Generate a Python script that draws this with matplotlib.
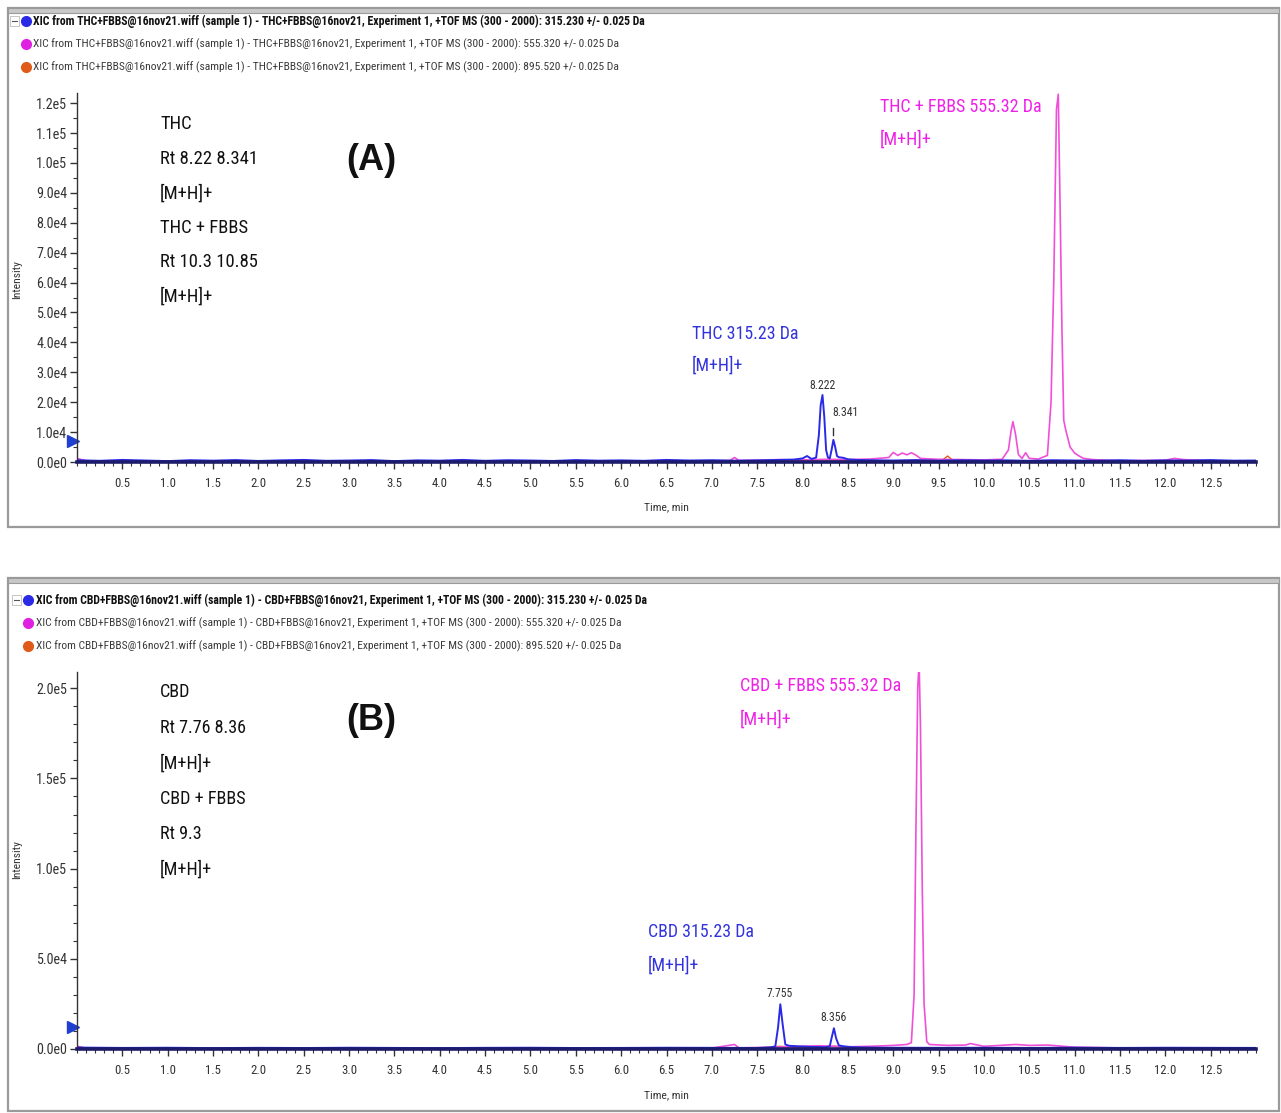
import matplotlib
matplotlib.use("Agg")
import matplotlib.pyplot as plt
from matplotlib import font_manager
from matplotlib.font_manager import FontProperties
from matplotlib.lines import Line2D
from matplotlib.patches import Rectangle
from matplotlib.ticker import MultipleLocator

# ---------------- data ----------------
x_ticks = [0.5, 1.0, 1.5, 2.0, 2.5, 3.0, 3.5, 4.0, 4.5, 5.0, 5.5, 6.0, 6.5,
           7.0, 7.5, 8.0, 8.5, 9.0, 9.5, 10.0, 10.5, 11.0, 11.5, 12.0, 12.5]
x_labels = ['0.5', '1.0', '1.5', '2.0', '2.5', '3.0', '3.5', '4.0', '4.5', '5.0',
            '5.5', '6.0', '6.5', '7.0', '7.5', '8.0', '8.5', '9.0', '9.5', '10.0',
            '10.5', '11.0', '11.5', '12.0', '12.5']

a_yticks = [0, 1e4, 2e4, 3e4, 4e4, 5e4, 6e4, 7e4, 8e4, 9e4, 1e5, 1.1e5, 1.2e5]
a_ylabels = ['0.0e0', '1.0e4', '2.0e4', '3.0e4', '4.0e4', '5.0e4', '6.0e4',
             '7.0e4', '8.0e4', '9.0e4', '1.0e5', '1.1e5', '1.2e5']
b_yticks = [0, 5e4, 1e5, 1.5e5, 2e5]
b_ylabels = ['0.0e0', '5.0e4', '1.0e5', '1.5e5', '2.0e5']

# Panel A - THC + FBBS
a_blue_t = [0.00, 0.25, 0.50, 0.75, 1.00, 1.25, 1.50, 1.75, 2.00, 2.25, 2.50, 2.75,
            3.00, 3.25, 3.50, 3.75, 4.00, 4.25, 4.50, 4.75, 5.00, 5.25, 5.50, 5.75,
            6.00, 6.25, 6.50, 6.75, 7.00, 7.25, 7.50, 7.75, 7.90, 8.00, 8.05, 8.10,
            8.15, 8.18, 8.20, 8.22, 8.24, 8.26, 8.28, 8.30, 8.32, 8.34, 8.36, 8.38,
            8.40, 8.45, 8.50, 8.60, 8.75, 9.00, 9.25, 9.50, 9.75, 10.00, 10.25, 10.50,
            10.75, 11.00, 11.25, 11.50, 11.75, 12.00, 12.25, 12.50, 12.75, 13.00]
a_blue_y = [600, 400, 700, 500, 300, 600, 450, 650, 350, 550, 700, 400,
            500, 650, 300, 550, 450, 700, 400, 600, 500, 350, 650, 450,
            550, 400, 700, 500, 600, 450, 550, 700, 800, 1200, 2000, 1000,
            1500, 9000, 19000, 22400, 15000, 4000, 1500, 1200, 4000, 7400, 5000, 2000,
            1600, 1400, 900, 700, 600, 500, 650, 450, 600, 500, 550, 400,
            600, 500, 450, 600, 400, 550, 500, 650, 450, 500]

a_mag_t = [0.00, 0.10, 0.50, 1.00, 1.50, 2.00, 2.50, 3.00, 3.50, 4.00, 4.50, 5.00,
           5.50, 6.00, 6.50, 7.00, 7.20, 7.25, 7.30, 7.50, 7.75, 8.00, 8.25, 8.50,
           8.75, 8.95, 9.00, 9.05, 9.10, 9.15, 9.20, 9.25, 9.30, 9.50, 9.75, 10.00,
           10.20, 10.27, 10.30, 10.32, 10.35, 10.38, 10.42, 10.46, 10.50, 10.60, 10.70,
           10.74, 10.77, 10.80, 10.82, 10.84, 10.86, 10.88, 10.90, 10.95, 11.00, 11.05,
           11.10, 11.20, 11.50, 12.00, 12.10, 12.20, 12.50, 13.00]
a_mag_y = [1200, 400, 300, 350, 250, 300, 350, 250, 300, 350, 250, 300,
           350, 300, 250, 400, 500, 1500, 500, 600, 800, 700, 900, 800,
           1000, 1500, 3200, 2200, 3000, 2400, 3100, 2300, 1200, 900, 800, 700,
           900, 4000, 10500, 13500, 9000, 2500, 1200, 3100, 1200, 1000, 2200,
           20000, 60000, 118000, 123000, 85000, 45000, 14000, 11000, 5000, 3000, 2000,
           1200, 800, 400, 600, 1200, 800, 400, 300]

a_org_t = [0.0, 1.0, 2.0, 3.0, 4.0, 5.0, 6.0, 7.0, 7.5, 8.0, 8.2, 8.4, 8.6,
           9.0, 9.55, 9.60, 9.65, 10.0, 11.0, 12.0, 13.0]
a_org_y = [200, 150, 200, 150, 200, 150, 200, 250, 300, 500, 700, 600, 300,
           400, 800, 2000, 700, 300, 200, 250, 200]

# Panel B - CBD + FBBS
b_blue_t = [0.00, 0.50, 1.00, 1.50, 2.00, 2.50, 3.00, 3.50, 4.00, 4.50, 5.00, 5.50,
            6.00, 6.50, 7.00, 7.50, 7.65, 7.70, 7.73, 7.755, 7.78, 7.81, 7.85, 7.95,
            8.10, 8.25, 8.30, 8.32, 8.346, 8.37, 8.40, 8.45, 8.55, 8.75, 9.00, 9.50,
            10.00, 10.50, 11.00, 11.50, 12.00, 12.50, 13.00]
b_blue_y = [800, 600, 700, 500, 650, 550, 700, 600, 500, 650, 700, 550,
            600, 700, 650, 600, 900, 1500, 12000, 24800, 14000, 2500, 1800, 1500,
            1200, 1000, 1500, 6000, 11500, 6000, 2000, 1500, 1000, 800, 700, 650,
            700, 600, 750, 600, 700, 650, 600]

b_mag_t = [0.00, 0.10, 1.00, 2.00, 3.00, 4.00, 5.00, 6.00, 7.00, 7.25, 7.30, 7.50,
           7.80, 8.00, 8.20, 8.50, 8.80, 9.00, 9.15, 9.20, 9.23, 9.25, 9.27, 9.285,
           9.30, 9.32, 9.34, 9.37, 9.40, 9.60, 9.80, 9.85, 10.00, 10.35, 10.50, 10.70,
           11.00, 11.50, 12.00, 13.00]
b_mag_y = [1500, 500, 400, 350, 400, 350, 400, 350, 500, 2500, 600, 800,
           1200, 1500, 1800, 1200, 1600, 2000, 2500, 3500, 30000, 120000, 200000, 215000,
           180000, 90000, 25000, 4000, 2500, 2000, 2200, 3000, 1500, 2500, 2000, 2200,
           1000, 600, 500, 400]

b_org_t = [0.0, 1.0, 2.0, 3.0, 4.0, 5.0, 6.0, 7.0, 7.5, 7.75, 8.0, 8.35, 8.6,
           9.0, 9.5, 10.0, 10.5, 11.0, 12.0, 13.0]
b_org_y = [300, 250, 300, 250, 300, 250, 300, 350, 400, 1500, 600, 1500, 500,
           400, 350, 300, 600, 300, 250, 300]

a_thresh = 7000
b_thresh = 12000

a_header = [
    "XIC from THC+FBBS@16nov21.wiff (sample 1) - THC+FBBS@16nov21, Experiment 1, +TOF MS (300 - 2000): 315.230 +/- 0.025 Da",
    "XIC from THC+FBBS@16nov21.wiff (sample 1) - THC+FBBS@16nov21, Experiment 1, +TOF MS (300 - 2000): 555.320 +/- 0.025 Da",
    "XIC from THC+FBBS@16nov21.wiff (sample 1) - THC+FBBS@16nov21, Experiment 1, +TOF MS (300 - 2000): 895.520 +/- 0.025 Da",
]
b_header = [
    "XIC from CBD+FBBS@16nov21.wiff (sample 1) - CBD+FBBS@16nov21, Experiment 1, +TOF MS (300 - 2000): 315.230 +/- 0.025 Da",
    "XIC from CBD+FBBS@16nov21.wiff (sample 1) - CBD+FBBS@16nov21, Experiment 1, +TOF MS (300 - 2000): 555.320 +/- 0.025 Da",
    "XIC from CBD+FBBS@16nov21.wiff (sample 1) - CBD+FBBS@16nov21, Experiment 1, +TOF MS (300 - 2000): 895.520 +/- 0.025 Da",
]
a_notes = ["THC", "Rt 8.22 8.341", "[M+H]+", "THC + FBBS", "Rt 10.3 10.85", "[M+H]+"]
b_notes = ["CBD", "Rt 7.76 8.36", "[M+H]+", "CBD + FBBS", "Rt 9.3", "[M+H]+"]


# ---------------- fonts: prefer a narrow / condensed sans ----------------
def _num(v, table, default):
    if isinstance(v, str):
        return table.get(v, default)
    return v


def pick_font(want_weight):
    best = None
    best_score = None
    prefs = ['Liberation Sans Narrow', 'Arial Narrow', 'Roboto Condensed',
             'DejaVu Sans Condensed', 'DejaVu Sans', 'Noto Sans', 'Open Sans Condensed',
             'Open Sans', 'Liberation Sans']
    for f in font_manager.fontManager.ttflist:
        st = _num(f.stretch, font_manager.stretch_dict, 500)
        w = _num(f.weight, font_manager.weight_dict, 400)
        name = f.name
        cond = st < 500 or 'Narrow' in name or 'Condensed' in name or \
            'Condensed' in f.fname or 'Narrow' in f.fname
        if not cond or f.style != 'normal':
            continue
        if not any(name.startswith(p.split()[0]) for p in prefs):
            continue
        pref_rank = next((i for i, p in enumerate(prefs) if name.startswith(p.split()[0])), 99)
        score = (abs(w - want_weight), pref_rank, abs(st - 300))
        if best_score is None or score < best_score:
            best, best_score = f, score
    if best is None:
        return FontProperties(family='Liberation Sans',
                              weight='bold' if want_weight >= 600 else 'normal')
    return FontProperties(fname=best.fname)


FP = pick_font(400)
FPB = pick_font(700)

# ---------------- style ----------------
BLUE = '#2a2ae6'
BLUE_TXT = '#3333dd'
MAG = '#f050d8'
MAG_TXT = '#f020e8'
ORG = '#e05a1a'
AXC = '#1c1c6a'

W, H = 1281, 1113
fig = plt.figure(figsize=(W / 100, H / 100), dpi=100)
fig.patch.set_facecolor('white')
renderer = fig.canvas.get_renderer()


def fx(x):
    return x / W


def fy(y):
    return 1 - y / H


def size_for(s, target_w, fp):
    p = fp.copy()
    p.set_size(10)
    t = fig.text(0, 0, s, fontproperties=p)
    w = t.get_window_extent(renderer).width
    t.remove()
    return 10 * target_w / w


def ftext(x, y, s, size, fp=FP, **kw):
    p = fp.copy()
    p.set_size(size)
    return fig.text(fx(x), fy(y), s, fontproperties=p, **kw)


def frame(x0, y0, x1, y1):
    fig.add_artist(Rectangle((fx(x0), fy(y1)), fx(x1 - x0), (y1 - y0) / H,
                             transform=fig.transFigure, fill=False,
                             edgecolor='#9a9a9a', linewidth=1.6))
    fig.add_artist(Rectangle((fx(x0), fy(y0 + 5)), fx(x1 - x0), 5 / H,
                             transform=fig.transFigure, fill=True,
                             facecolor='#c8c8c8', edgecolor='#9a9a9a', linewidth=0.8))


HDR1 = size_for(a_header[0], 615, FPB)
HDR2 = size_for(a_header[1], 583, FP)
NOTE = size_for("Rt 8.22 8.341", 97, FP)
NOTE_B = size_for("Rt 7.76 8.36", 86, FP)
LBL = size_for("THC + FBBS 555.32 Da", 162, FP)
LBL2 = size_for("THC 315.23 Da", 106, FP)
TICKX = size_for("10.0", 22, FP)
TICKY = size_for("1.2e5", 31, FP)
PEAK = size_for("8.222", 26, FP)
AXL = size_for("Time, min", 44, FP)


def header(lines, y0, dy, xm, xt):
    cols = [BLUE, '#e020e0', ORG]
    for i, (txt, c) in enumerate(zip(lines, cols)):
        yy = y0 + i * dy
        fig.add_artist(Line2D([fx(xm)], [fy(yy)], transform=fig.transFigure,
                              marker='o', markersize=7, color=c, linestyle='none'))
        ftext(xt, yy, txt, HDR1 if i == 0 else HDR2, fp=FPB if i == 0 else FP,
              color='#111111' if i == 0 else '#3a3a3a', va='center', ha='left')
    fig.add_artist(Rectangle((fx(xm - 16), fy(y0 + 5)), fx(9), 10 / H,
                             transform=fig.transFigure, fill=False,
                             edgecolor='#bbbbbb', linewidth=0.6))
    fig.add_artist(Line2D([fx(xm - 14), fx(xm - 9)], [fy(y0), fy(y0)],
                          transform=fig.transFigure, color='#555555', lw=0.8))


def style_axes(ax, yticks, ylabels, ymax, yminor):
    ax.set_xlim(0, 13.0)
    ax.set_ylim(0, ymax)
    px = FP.copy(); px.set_size(TICKX)
    py = FP.copy(); py.set_size(TICKY)
    ax.set_xticks(x_ticks)
    ax.set_xticklabels(x_labels, fontproperties=px, color='#333333')
    ax.set_yticks(yticks)
    ax.set_yticklabels(ylabels, fontproperties=py, color='#333333')
    ax.xaxis.set_minor_locator(MultipleLocator(0.1))
    ax.yaxis.set_minor_locator(MultipleLocator(yminor))
    for s in ['top', 'right']:
        ax.spines[s].set_visible(False)
    ax.spines['left'].set_color('#333333')
    ax.spines['left'].set_linewidth(1.0)
    ax.spines['bottom'].set_color(AXC)
    ax.spines['bottom'].set_linewidth(2.6)
    ax.tick_params(axis='x', which='major', length=5, width=1, color='#333333', pad=6)
    ax.tick_params(axis='x', which='minor', length=3, width=0.8, color='#333333')
    ax.tick_params(axis='y', which='major', length=5, width=1, color='#333333', pad=2)
    ax.tick_params(axis='y', which='minor', length=3, width=0.8, color='#333333')
    ax.set_facecolor('none')


def peak_label(ax, x, y, s, ha='center'):
    p = FP.copy(); p.set_size(PEAK)
    ax.text(x, y, s, fontproperties=p, color='#333333', ha=ha, va='center')


# ---------------- Panel A ----------------
frame(8, 8, 1279, 527)
header(a_header, 21, 23, 26, 33)

axA = fig.add_axes([fx(77), fy(462), fx(1256 - 77), (462 - 93) / H])
axA.plot(a_org_t, a_org_y, color=ORG, lw=1.0)
axA.plot(a_mag_t, a_mag_y, color=MAG, lw=1.2)
axA.plot(a_blue_t, a_blue_y, color=BLUE, lw=1.4)
style_axes(axA, a_yticks, a_ylabels, 1.234e5, 5e3)
axA.plot([-0.04], [a_thresh], marker='>', color='#1f3fd0', markersize=9, clip_on=False)

peak_label(axA, 8.222, 2.55e4, '8.222')
peak_label(axA, 8.325, 1.65e4, '8.341', ha='left')
axA.plot([8.335, 8.335], [0.9e4, 1.14e4], color='#333333', lw=1.0)

for i, t in enumerate(a_notes):
    ftext(160, 124 + i * 34.6, t, NOTE, color='#111111', va='center', ha='left')
fig.text(fx(371), fy(160), '(A)', family='Liberation Sans', fontsize=26,
         fontweight='bold', color='#111111', ha='center', va='center')
ftext(880, 107, 'THC + FBBS 555.32 Da', LBL, color=MAG_TXT, va='center', ha='left')
ftext(880, 140, '[M+H]+', LBL, color=MAG_TXT, va='center', ha='left')
ftext(692, 334, 'THC 315.23 Da', LBL2, color=BLUE_TXT, va='center', ha='left')
ftext(692, 366, '[M+H]+', LBL2, color=BLUE_TXT, va='center', ha='left')
ftext(17, 280, 'Intensity', AXL, rotation=90, color='#333333', va='center', ha='center')
ftext(666, 507, 'Time, min', AXL, color='#333333', va='center', ha='center')

# ---------------- Panel B ----------------
frame(8, 578, 1279, 1111)
header(b_header, 600, 23, 28, 36)

axB = fig.add_axes([fx(77), fy(1049), fx(1256 - 77), (1049 - 672) / H])
axB.plot(b_org_t, b_org_y, color=ORG, lw=1.0)
axB.plot(b_mag_t, b_mag_y, color=MAG, lw=1.2)
axB.plot(b_blue_t, b_blue_y, color=BLUE, lw=1.4)
style_axes(axB, b_yticks, b_ylabels, 2.09e5, 1e4)
axB.plot([-0.04], [b_thresh], marker='>', color='#1f3fd0', markersize=9, clip_on=False)

peak_label(axB, 7.75, 3.06e4, '7.755')
peak_label(axB, 8.34, 1.72e4, '8.356')

for i, t in enumerate(b_notes):
    ftext(160, 692 + i * 35.6, t, NOTE_B, color='#111111', va='center', ha='left')
fig.text(fx(371), fy(720), '(B)', family='Liberation Sans', fontsize=26,
         fontweight='bold', color='#111111', ha='center', va='center')
ftext(740, 686, 'CBD + FBBS 555.32 Da', LBL, color=MAG_TXT, va='center', ha='left')
ftext(740, 720, '[M+H]+', LBL, color=MAG_TXT, va='center', ha='left')
ftext(648, 932, 'CBD 315.23 Da', LBL2, color=BLUE_TXT, va='center', ha='left')
ftext(648, 966, '[M+H]+', LBL2, color=BLUE_TXT, va='center', ha='left')
ftext(17, 860, 'Intensity', AXL, rotation=90, color='#333333', va='center', ha='center')
ftext(666, 1095, 'Time, min', AXL, color='#333333', va='center', ha='center')

fig.savefig('out.png', dpi=100)
